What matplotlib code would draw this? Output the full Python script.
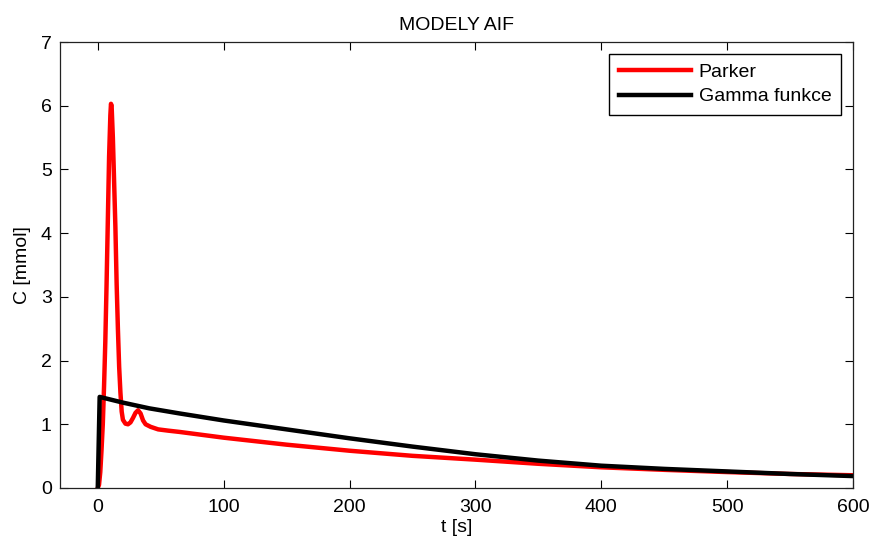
import numpy as np
import matplotlib
matplotlib.use("Agg")
from matplotlib import pyplot as plt

# values
t_parker = [0, 1, 2, 3, 4, 5, 6, 7, 8, 9, 10, 10.5, 11, 12, 13, 14, 15, 16, 17,
            18, 19, 20, 22, 24, 26, 28, 30, 32, 34, 36, 38, 42, 48, 56, 65, 100,
            150, 200, 250, 300, 350, 400, 450, 500, 550, 600]
c_parker = [0, 0.05, 0.25, 0.6, 1.0, 1.6, 2.3, 3.2, 4.2, 5.2, 5.85, 6.03, 6.0,
            5.5, 4.8, 4.1, 3.2, 2.5, 1.9, 1.5, 1.2, 1.07, 1.01, 1.0, 1.03, 1.1,
            1.18, 1.22, 1.17, 1.06, 1.0, 0.96, 0.92, 0.9, 0.88, 0.79, 0.68,
            0.585, 0.505, 0.445, 0.38, 0.325, 0.285, 0.25, 0.22, 0.2]

t_gamma = [0, 1.5, 20, 41, 65, 100, 150, 200, 250, 300, 350, 400, 450, 500,
           550, 600]
c_gamma = [0, 1.43, 1.34, 1.25, 1.17, 1.06, 0.92, 0.78, 0.65, 0.53, 0.43,
           0.35, 0.30, 0.26, 0.22, 0.187]

labels = ["Parker", "Gamma funkce"]

plt.rcParams['font.family'] = ['Liberation Sans', 'DejaVu Sans']
plt.rcParams['font.size'] = 14

fig = plt.figure(figsize=(8.69, 5.39), dpi=100)
ax = fig.add_axes([60 / 869, 1 - 488 / 539, 793 / 869, 446 / 539])

ax.plot(t_parker, c_parker, color='#ff0000', lw=3.2, label=labels[0])
ax.plot(t_gamma, c_gamma, color='black', lw=3.2, label=labels[1])

ax.set_xlim(-30, 600)
ax.set_ylim(0, 7)
ax.set_xticks(np.arange(0, 601, 100))
ax.set_yticks(np.arange(0, 8, 1))
ax.tick_params(direction='in', length=6, width=0.8, top=True, right=True)
ax.tick_params(axis='x', pad=8)
ax.tick_params(axis='y', pad=6)
for s in ax.spines.values():
    s.set_linewidth(0.9)
    s.set_color('#222222')

ax.set_title("MODELY AIF", fontsize=14, pad=9)
ax.set_xlabel("t [s]", labelpad=2)
ax.set_ylabel("C [mmol]", labelpad=7)

leg = ax.legend(loc='upper right', fancybox=False, edgecolor='black',
                handlelength=3.7, handletextpad=0.4, borderpad=0.5,
                labelspacing=0.35, borderaxespad=0.6, framealpha=1)
leg.get_frame().set_linewidth(1.0)

fig.savefig("out.png", dpi=100)
